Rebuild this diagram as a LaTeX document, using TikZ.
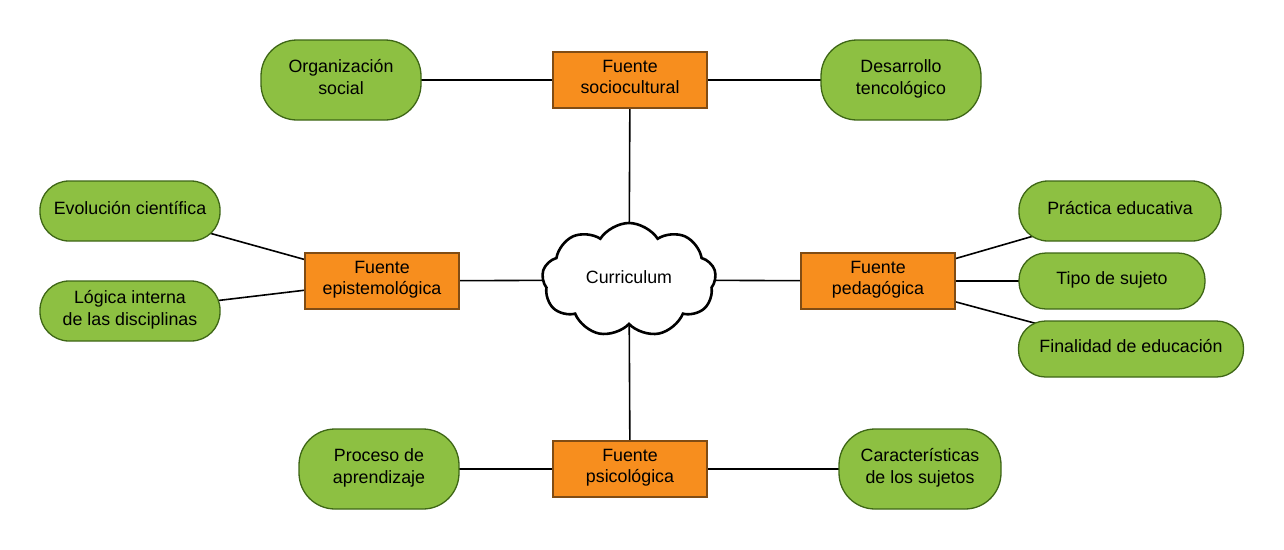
\documentclass[tikz,border=0pt]{standalone}
\usepackage{fontspec}
\setmainfont{Liberation Sans}
\usetikzlibrary{shapes.symbols,backgrounds}
\definecolor{gfill}{RGB}{141,192,66}
\definecolor{gdraw}{RGB}{62,102,22}
\definecolor{ofill}{RGB}{247,142,30}
\definecolor{odraw}{RGB}{128,76,20}
\tikzset{
  txt/.style={font=\fontsize{17.8}{21.5}\selectfont, align=center, inner sep=0pt, text depth=6pt},
  topic/.style={txt, draw=gdraw, fill=gfill, line width=1.3pt, rounded corners=29pt},
  bigtopic/.style={topic, rounded corners=36pt, minimum width=160pt, minimum height=80pt},
  source/.style={txt, draw=odraw, fill=ofill, line width=1.3pt, minimum width=154pt, minimum height=56pt},
  link/.style={draw=black, line width=1.6pt},
}
\begin{document}
\begin{tikzpicture}[x=1pt,y=-1pt]
\useasboundingbox (0,0) rectangle (1284,549);
% centre
\node[txt, cloud, cloud puffs=9, cloud puff arc=115, aspect=1.6, draw=black, line width=2.6pt, fill=white,
      minimum width=174pt, minimum height=114pt] (cur) at (629,280) {Curriculum};
% sources
\node[source] (soc) at (630,80) {Fuente\\sociocultural};
\node[source] (epi) at (382,281) {Fuente\\epistemológica};
\node[source] (ped) at (878,281) {Fuente\\pedagógica};
\node[source] (psi) at (630,469) {Fuente\\psicológica};
% topics
\node[bigtopic] (org) at (341,80) {Organización\\social};
\node[bigtopic] (des) at (901,80) {Desarrollo\\tencológico};
\node[topic, minimum width=180pt, minimum height=60pt] (evo) at (130,211) {Evolución científica};
\node[topic, minimum width=180pt, minimum height=60pt] (log) at (130,311) {Lógica interna\\de las disciplinas};
\node[topic, minimum width=202pt, minimum height=60pt] (pra) at (1120,211) {Práctica educativa};
\node[topic, rounded corners=27pt, minimum width=186pt, minimum height=56pt] (tip) at (1112,281) {Tipo de sujeto};
\node[topic, rounded corners=27pt, minimum width=225pt, minimum height=56pt] (fin) at (1131,349) {Finalidad de educación};
\node[bigtopic] (pro) at (379,469) {Proceso de\\aprendizaje};
\node[bigtopic, minimum width=162pt] (car) at (920,469) {Características\\de los sujetos};
% connectors
\begin{scope}[on background layer]
\draw[link] (soc.center) -- (cur.center);
\draw[link] (psi.center) -- (cur.center);
\draw[link] (epi.center) -- (cur.center);
\draw[link] (ped.center) -- (cur.center);
\draw[link] (org.center) -- (soc.center);
\draw[link] (des.center) -- (soc.center);
\draw[link] (pro.center) -- (psi.center);
\draw[link] (car.center) -- (psi.center);
\draw[link] (evo.center) -- (epi.center);
\draw[link] (log.center) -- (epi.center);
\draw[link] (pra.center) -- (ped.center);
\draw[link] (tip.center) -- (ped.center);
\draw[link] (fin.center) -- (ped.center);
\end{scope}
\end{tikzpicture}
\end{document}
